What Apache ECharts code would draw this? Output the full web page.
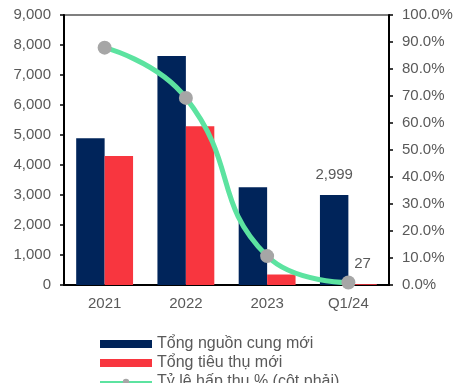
<!DOCTYPE html>
<html>
<head>
<meta charset="utf-8">
<script src="https://cdn.jsdelivr.net/npm/echarts@6/dist/echarts.min.js"></script>
<style>
  html, body { margin: 0; padding: 0; background: #fff; }
  #chart { width: 456px; height: 383px; }
</style>
</head>
<body>
<div id="chart"></div>
<script>
// Periods on the x axis
const categories = ['2021', '2022', '2023', 'Q1/24'];
// New supply (units), left axis
const supply = [4890, 7630, 3260, 2999];
// New consumption (units), left axis
const consumption = [4300, 5290, 350, 27];
// Absorption rate in percent, right axis
const absorption = [87.9, 69.3, 10.7, 0.9];

const seriesNames = ['Tổng nguồn cung mới', 'Tổng tiêu thụ mới', 'Tỷ lệ hấp thụ % (cột phải)'];

const FONT = '"Liberation Sans", Arial, sans-serif';
const TEXT = '#595959';

const chart = echarts.init(document.getElementById('chart'), null, { renderer: 'canvas' });

// Only the last period carries value labels
function lastOnlyLabel(params) {
  return params.dataIndex === categories.length - 1
    ? params.value.toLocaleString('en-US') : '';
}

chart.setOption({
  animation: false,
  textStyle: { fontFamily: FONT },
  grid: {
    left: 64, right: 67, top: 15, bottom: 98,
    show: true, borderColor: '#000', borderWidth: 1.2, backgroundColor: 'transparent'
  },
  legend: {
    orient: 'vertical',
    left: 94, top: 331, height: 120,
    itemWidth: 52, itemHeight: 8, itemGap: 3,
    textStyle: { fontFamily: FONT, fontSize: 16, color: TEXT, lineHeight: 16 },
    data: [
      { name: seriesNames[0], icon: 'rect' },
      { name: seriesNames[1], icon: 'rect' },
      { name: seriesNames[2] }
    ]
  },
  xAxis: {
    type: 'category',
    data: categories,
    axisLine: { lineStyle: { color: '#000', width: 2 } },
    axisTick: { show: false },
    axisLabel: { color: TEXT, fontSize: 15, fontFamily: FONT, margin: 11 }
  },
  yAxis: [
    {
      type: 'value', min: 0, max: 9000, interval: 1000,
      axisLine: { show: true, lineStyle: { color: '#000', width: 2 } },
      axisTick: { show: true, length: 4, lineStyle: { color: '#000', width: 1.5 } },
      splitLine: { show: false },
      axisLabel: {
        color: TEXT, fontSize: 15, fontFamily: FONT, margin: 13,
        formatter: v => v.toLocaleString('en-US')
      }
    },
    {
      type: 'value', min: 0, max: 100, interval: 10, position: 'right',
      axisLine: { show: true, lineStyle: { color: '#000', width: 2 } },
      axisTick: { show: true, length: 4, lineStyle: { color: '#000', width: 1.5 } },
      splitLine: { show: false },
      axisLabel: {
        color: TEXT, fontSize: 15, fontFamily: FONT, margin: 13,
        formatter: v => v.toFixed(1) + '%'
      }
    }
  ],
  series: [
    {
      name: seriesNames[0], type: 'bar', data: supply,
      barGap: '0%', barCategoryGap: '30%',
      itemStyle: { color: '#00245a' },
      label: {
        show: true, position: 'top', distance: 13,
        color: TEXT, fontSize: 15, fontFamily: FONT,
        formatter: lastOnlyLabel
      }
    },
    {
      name: seriesNames[1], type: 'bar', data: consumption,
      itemStyle: { color: '#f8363f' },
      label: {
        show: true, position: 'top', distance: 13,
        color: TEXT, fontSize: 15, fontFamily: FONT,
        formatter: lastOnlyLabel
      }
    },
    {
      name: seriesNames[2], type: 'line', yAxisIndex: 1, data: absorption,
      smooth: 0.5, z: 5,
      symbol: 'circle', symbolSize: 14,
      lineStyle: { color: '#5ce3a0', width: 5 },
      itemStyle: { color: '#a6a6a6' }
    }
  ]
});
</script>
</body>
</html>
